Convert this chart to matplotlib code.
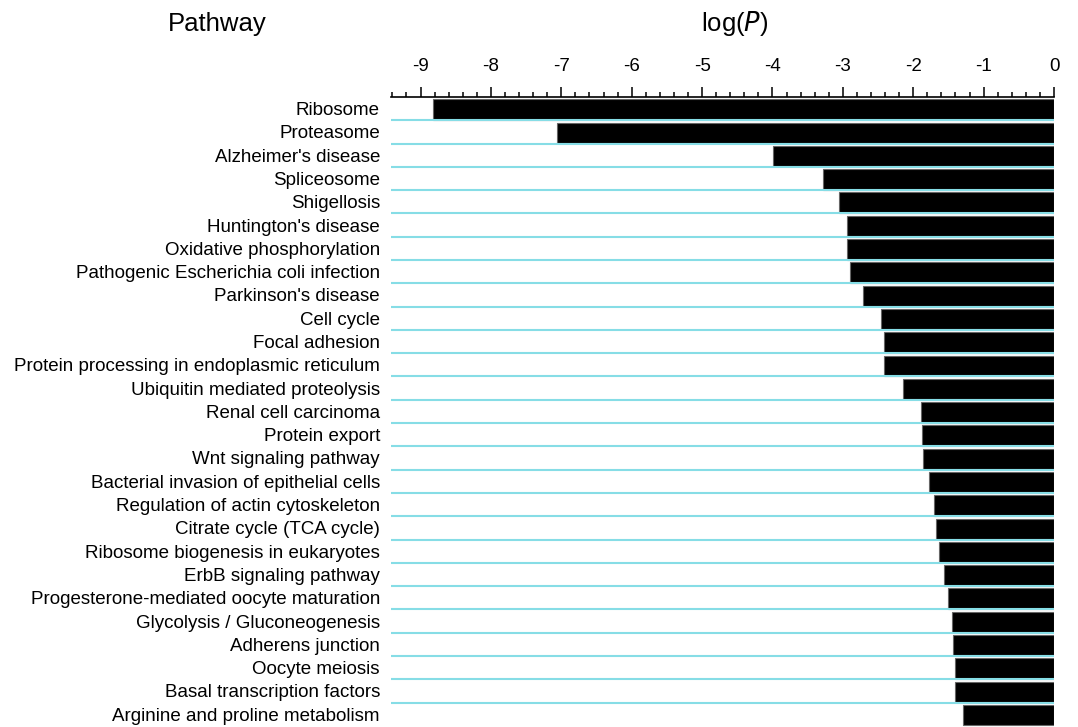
import matplotlib
matplotlib.use("Agg")
import matplotlib.pyplot as plt
from matplotlib.ticker import MultipleLocator
import numpy as np

plt.rcParams['font.family'] = ['Liberation Sans', 'DejaVu Sans']

# KEGG pathways, listed top to bottom, with their log(P) values
pathways = [
    "Ribosome",
    "Proteasome",
    "Alzheimer's disease",
    "Spliceosome",
    "Shigellosis",
    "Huntington's disease",
    "Oxidative phosphorylation",
    "Pathogenic Escherichia coli infection",
    "Parkinson's disease",
    "Cell cycle",
    "Focal adhesion",
    "Protein processing in endoplasmic reticulum",
    "Ubiquitin mediated proteolysis",
    "Renal cell carcinoma",
    "Protein export",
    "Wnt signaling pathway",
    "Bacterial invasion of epithelial cells",
    "Regulation of actin cytoskeleton",
    "Citrate cycle (TCA cycle)",
    "Ribosome biogenesis in eukaryotes",
    "ErbB signaling pathway",
    "Progesterone-mediated oocyte maturation",
    "Glycolysis / Gluconeogenesis",
    "Adherens junction",
    "Oocyte meiosis",
    "Basal transcription factors",
    "Arginine and proline metabolism",
]
log_p = [
    -8.83, -7.06, -3.99, -3.28, -3.06, -2.94, -2.94, -2.90, -2.72,
    -2.46, -2.42, -2.41, -2.14, -1.89, -1.88, -1.86, -1.77, -1.71,
    -1.68, -1.63, -1.57, -1.50, -1.45, -1.43, -1.41, -1.40, -1.30,
]
x_ticks = [-9, -8, -7, -6, -5, -4, -3, -2, -1, 0]

W, H = 1078, 727
fig = plt.figure(figsize=(W / 100, H / 100), dpi=100)
ax = fig.add_axes([391 / W, 0.0, (1054 - 391) / W, 1 - 97 / H])

rows = np.arange(len(pathways))
ax.barh(rows + 0.04, log_p, height=0.88, color="black",
        edgecolor="#666666", linewidth=0.8, zorder=2)

# light cyan separators between rows
for b in rows[:-1] + 0.5:
    ax.axhline(b, color="#86dde6", linewidth=1.5, zorder=3)

ax.set_xlim(-9.42, 0)
ax.set_ylim(len(pathways) - 0.5 + 0.05, -0.5)

ax.xaxis.tick_top()
ax.set_xticks(x_ticks)
ax.set_xticklabels([str(t) for t in x_ticks])
ax.xaxis.set_minor_locator(MultipleLocator(0.2))
ax.tick_params(axis="x", which="major", length=7, width=1.1, pad=9,
               labelsize=13.5, direction="out")
ax.tick_params(axis="x", which="minor", length=3.5, width=1.1, direction="out")

ax.set_yticks(rows)
ax.set_yticklabels(pathways, fontsize=13.5)
ax.tick_params(axis="y", length=0, pad=8)

for side in ["left", "right", "bottom"]:
    ax.spines[side].set_visible(False)
ax.spines["top"].set_linewidth(1.2)

fig.text(217 / W, 1 - 24 / H, "Pathway", fontsize=18.5, ha="center", va="center")
fig.text(735 / W, 1 - 24 / H, r"log($\mathit{P}$)", fontsize=18.5,
         ha="center", va="center")

fig.savefig("out.png", dpi=100)
